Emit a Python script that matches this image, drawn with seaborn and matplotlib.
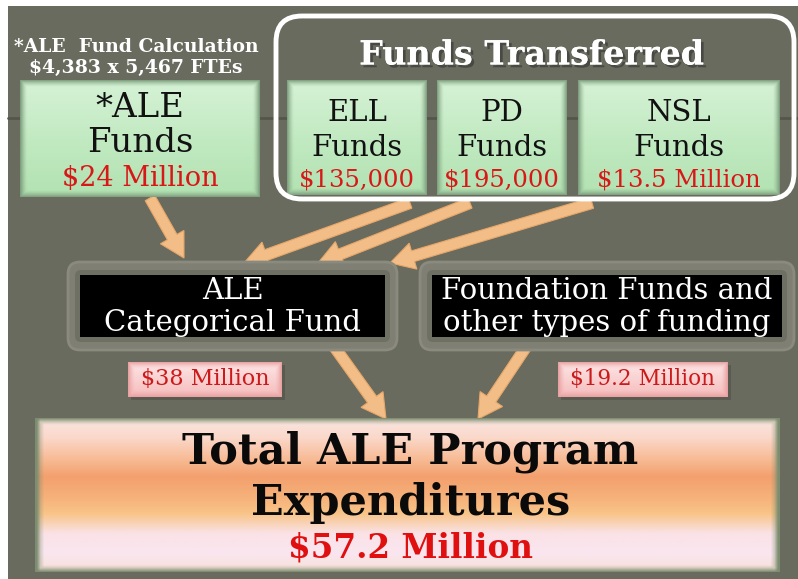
import numpy as np
import matplotlib
matplotlib.use("Agg")
import matplotlib.pyplot as plt
import seaborn as sns
from matplotlib.patches import FancyBboxPatch, Rectangle, FancyArrow
from matplotlib.colors import to_rgb
import matplotlib.patheffects as pe

sns.set_theme(style="white")
plt.rcParams['font.family'] = ['DejaVu Serif', 'DejaVu Sans']

# ---- content ----
calc_note = ["*ALE  Fund Calculation", "$4,383 x 5,467 FTEs"]
transfer_title = "Funds Transferred"
source_names = ["*ALE", "ELL", "PD", "NSL"]
source_amounts = ["$24 Million", "$135,000", "$195,000", "$13.5 Million"]
category_lines = [["ALE", "Categorical Fund"], ["Foundation Funds and", "other types of funding"]]
category_amounts = ["$38 Million", "$19.2 Million"]
total_lines = ["Total ALE Program", "Expenditures"]
total_amount = "$57.2 Million"

# ---- layout (pixel space) ----
W, H = 798, 579
BG = "#6a6b5f"
source_boxes = [(20, 80, 260, 197), (287, 80, 427, 195), (437, 80, 567, 195), (578, 80, 780, 195)]
category_boxes = [(80, 275, 385, 337), (432, 275, 782, 337)]
amount_boxes = [(128, 362, 282, 397), (558, 362, 728, 397)]
total_box = (35, 418, 780, 572)
arrows = [((150, 198), (184, 258)), ((410, 203), (244, 263)), ((470, 203), (318, 263)),
          ((592, 203), (390, 263)), ((328, 338), (386, 419)), ((532, 338), (478, 419))]

fig = plt.figure(figsize=(W / 100, H / 100), dpi=100)
ax = fig.add_axes([0, 0, 1, 1])
ax.set_xlim(0, W)
ax.set_ylim(H, 0)
ax.axis("off")
fig.patch.set_facecolor("white")

ax.add_patch(Rectangle((8, 6), W - 8, H - 6, facecolor=BG, edgecolor="none", zorder=0))
ax.plot([8, W], [118, 118], color="#55564a", lw=2, zorder=0.5)


def vgrad(box, stops, edge=None, z=2):
    x0, y0, x1, y1 = box
    n = 200
    t = np.linspace(0, 1, n)
    pos = [s[0] for s in stops]
    cols = np.array([to_rgb(s[1]) for s in stops])
    img = np.stack([np.interp(t, pos, cols[:, k]) for k in range(3)], axis=-1)
    img = np.repeat(img[:, None, :], 200, axis=1)
    if edge is not None:
        ec = np.array(to_rgb(edge))
        u = np.linspace(0, 1, 200)
        w = (x1 - x0)
        hh = (y1 - y0)
        dx = np.minimum(u * w, (1 - u) * w)
        dy = np.minimum(t * hh, (1 - t) * hh)
        d = np.minimum(dx[None, :], dy[:, None])
        a = np.clip(1 - d / 7.0, 0, 1)[:, :, None] ** 1.5
        img = img * (1 - a) + ec * a
    ax.imshow(img, extent=(x0, x1, y1, y0), aspect="auto", zorder=z, interpolation="bilinear")


# arrows (behind boxes)
for (sx, sy), (ex, ey) in arrows:
    ax.add_patch(FancyArrow(sx, sy, ex - sx, ey - sy, width=11, head_width=27, head_length=24,
                            length_includes_head=True, facecolor="#f3bd88", edgecolor="#e8a868",
                            lw=0.8, zorder=1))

# white frame for transferred funds
ax.add_patch(FancyBboxPatch((276, 16), 518, 183, boxstyle="round,pad=0,rounding_size=26",
                            facecolor="none", edgecolor="white", lw=3.5, zorder=4))

# green source boxes
green = [(0, "#d6f2d6"), (0.5, "#c2eac2"), (1, "#b2e2b2")]
for box in source_boxes:
    vgrad(box, green, edge="#7fa07f", z=2)

# source texts
name_y = [108, 113, 113, 113]
fund_y = [143, 148, 148, 148]
amt_y = [178, 180, 180, 180]
amt_size = [19.5, 17.5, 17.5, 17.5]
for i, box in enumerate(source_boxes):
    cx = (box[0] + box[2]) / 2
    size = 24.5 if i == 0 else 21
    ax.text(cx, name_y[i], source_names[i], ha="center", va="center", fontsize=size, color="#111111", zorder=5)
    ax.text(cx, fund_y[i], "Funds", ha="center", va="center", fontsize=size, color="#111111", zorder=5)
    ax.text(cx, amt_y[i], source_amounts[i], ha="center", va="center",
            fontsize=amt_size[i], color="#d81818", zorder=5)

# calc note and title
ax.text(136, 47, calc_note[0], ha="center", va="center", fontsize=13.5, fontweight="bold", color="white", zorder=5)
ax.text(136, 68, calc_note[1], ha="center", va="center", fontsize=13.5, fontweight="bold", color="white", zorder=5)
ax.text(532, 55, transfer_title, ha="center", va="center", fontsize=24, fontweight="bold", color="white", zorder=5,
        path_effects=[pe.withSimplePatchShadow(offset=(2, -2), shadow_rgbFace="#333333", alpha=0.6), pe.Normal()])

# black category boxes with glow
for i, (x0, y0, x1, y1) in enumerate(category_boxes):
    ax.add_patch(FancyBboxPatch((x0 - 12, y0 - 13), x1 - x0 + 24, y1 - y0 + 26,
                                boxstyle="round,pad=0,rounding_size=12", facecolor="#7f8073",
                                edgecolor="#8a8b7e", lw=2, zorder=2))
    ax.add_patch(FancyBboxPatch((x0 - 5, y0 - 5), x1 - x0 + 10, y1 - y0 + 10,
                                boxstyle="round,pad=0,rounding_size=6", facecolor="#6f7064",
                                edgecolor="none", zorder=2.2))
    ax.add_patch(Rectangle((x0, y0), x1 - x0, y1 - y0, facecolor="black", edgecolor="none", zorder=2.5))
    cx = (x0 + x1) / 2
    ax.text(cx, 291, category_lines[i][0], ha="center", va="center", fontsize=21, color="white", zorder=5)
    ax.text(cx, 323, category_lines[i][1], ha="center", va="center", fontsize=21, color="white", zorder=5)

# pink amount boxes
pink = [(0, "#fde6e6"), (1, "#f6bcbc")]
amount_sizes = [16, 15.5]
for i, box in enumerate(amount_boxes):
    ax.add_patch(Rectangle((box[0] + 3, box[1] + 3), box[2] - box[0], box[3] - box[1],
                           facecolor="#4f5046", edgecolor="none", alpha=0.6, zorder=1.8))
    vgrad(box, pink, edge="#e9a0a0", z=2)
    ax.text((box[0] + box[2]) / 2, (box[1] + box[3]) / 2, category_amounts[i], ha="center", va="center",
            fontsize=amount_sizes[i], color="#cc1a1a", zorder=5)

# total box
total_stops = [(0, "#f9e6e0"), (0.12, "#fbd9cc"), (0.28, "#f7b890"), (0.38, "#f3a06e"),
               (0.52, "#f6b27a"), (0.62, "#f8c488"), (0.75, "#fae2e6"), (0.88, "#fae6f0"), (1, "#f7e0d6")]
vgrad(total_box, total_stops, edge="#7d8d70", z=2)
ax.text(410, 452, total_lines[0], ha="center", va="center", fontsize=31, fontweight="bold", color="#0a0a0a", zorder=5)
ax.text(411, 503, total_lines[1], ha="center", va="center", fontsize=31, fontweight="bold", color="#0a0a0a", zorder=5)
ax.text(410, 548, total_amount, ha="center", va="center", fontsize=23.5, fontweight="bold", color="#e01010", zorder=5)

fig.savefig("out.png", dpi=100, facecolor="white")
